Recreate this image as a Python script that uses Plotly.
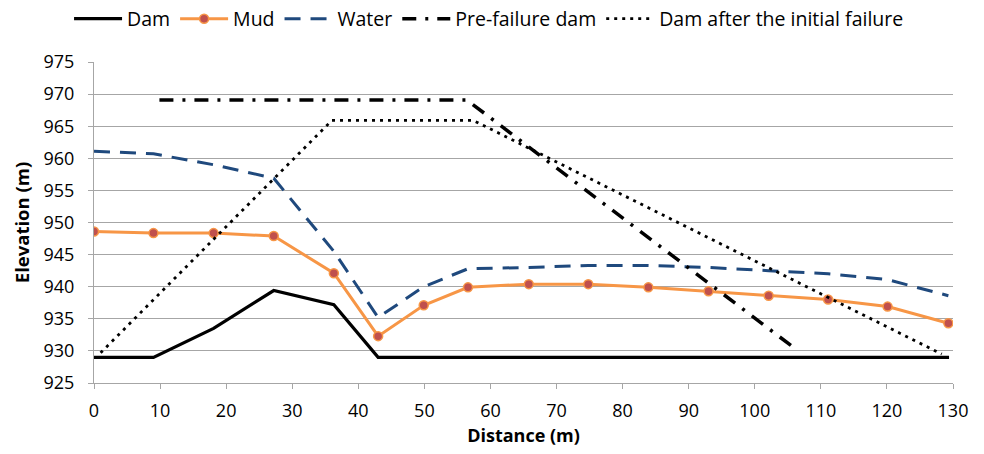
import plotly.graph_objects as go

# Data
dam_x = [0, 9.0, 18.1, 27.2, 36.3, 43.0, 129.4]
dam_y = [929, 929, 933.5, 939.4, 937.2, 929, 929]

mud_x = [0, 9.0, 18.1, 27.2, 36.3, 43.0, 49.9, 56.6, 65.8, 74.8, 83.9, 93.0, 102.1, 111.1, 120.1, 129.3]
mud_y = [948.6, 948.35, 948.35, 947.9, 942.1, 932.3, 937.1, 939.9, 940.4, 940.4, 939.9, 939.3, 938.6, 938.0, 936.9, 934.3]

water_x = [0, 9.0, 18.1, 27.2, 36.3, 43.0, 49.9, 56.6, 65.8, 74.8, 83.9, 93.0, 102.1, 111.1, 120.1, 129.3]
water_y = [961.1, 960.7, 959.0, 956.9, 945.5, 935.2, 940.0, 942.8, 943.0, 943.3, 943.3, 943.0, 942.5, 942.0, 941.1, 938.6]

pre_x = [9.9, 56.4, 106.3]
pre_y = [969.1, 969.1, 930.2]

after_x = [1.0, 36.0, 57.4, 128.3]
after_y = [929.7, 965.9, 965.9, 929.5]

x_ticks = list(range(0, 131, 10))
y_ticks = list(range(925, 976, 5))

fig = go.Figure()
fig.add_trace(go.Scatter(x=dam_x, y=dam_y, mode="lines", name="Dam",
                         line=dict(color="black", width=3.2)))
fig.add_trace(go.Scatter(x=mud_x, y=mud_y, mode="lines+markers", name="Mud",
                         line=dict(color="#F79646", width=3),
                         marker=dict(color="#C0504D", size=9,
                                     line=dict(color="#F79646", width=1.5))))
fig.add_trace(go.Scatter(x=water_x, y=water_y, mode="lines", name="Water",
                         line=dict(color="#1F497D", width=3, dash="16px,10px")))
fig.add_trace(go.Scatter(x=pre_x, y=pre_y, mode="lines", name="Pre-failure dam",
                         line=dict(color="black", width=3.5, dash="14px,9px,3px,9px")))
fig.add_trace(go.Scatter(x=after_x, y=after_y, mode="lines", name="Dam after the initial failure",
                         line=dict(color="black", width=2.8, dash="3px,5px")))

font = "'Open Sans', sans-serif"
fig.update_layout(
    width=984, height=454,
    margin=dict(l=94, r=31, t=62, b=71),
    plot_bgcolor="white", paper_bgcolor="white",
    font=dict(family=font, size=18, color="black"),
    showlegend=True,
    legend=dict(orientation="h", x=0.497, xanchor="center", xref="container",
                y=1 - 19 / 454, yanchor="middle", yref="container",
                font=dict(size=19.5), itemwidth=48, tracegroupgap=0),
    xaxis=dict(range=[0, 130], tickvals=x_ticks, showgrid=False,
               showline=True, linecolor="#A6A6A6", linewidth=1,
               ticks="outside", tickcolor="#A6A6A6", ticklen=5,
               tickfont=dict(size=18), zeroline=False, ticklabelstandoff=6,
               automargin=False,
               title=dict(text="<b>Distance (m)</b>", font=dict(size=18), standoff=8)),
    yaxis=dict(range=[925, 975], tickvals=y_ticks, showgrid=True,
               gridcolor="#A6A6A6", gridwidth=1,
               showline=True, linecolor="#A6A6A6", linewidth=1,
               ticks="outside", tickcolor="#A6A6A6", ticklen=5,
               tickfont=dict(size=18), zeroline=False, ticklabelstandoff=10,
               automargin=False,
               title=dict(text="<b>Elevation (m)</b>", font=dict(size=18.5), standoff=9)),
)

fig.write_html("out.html")
